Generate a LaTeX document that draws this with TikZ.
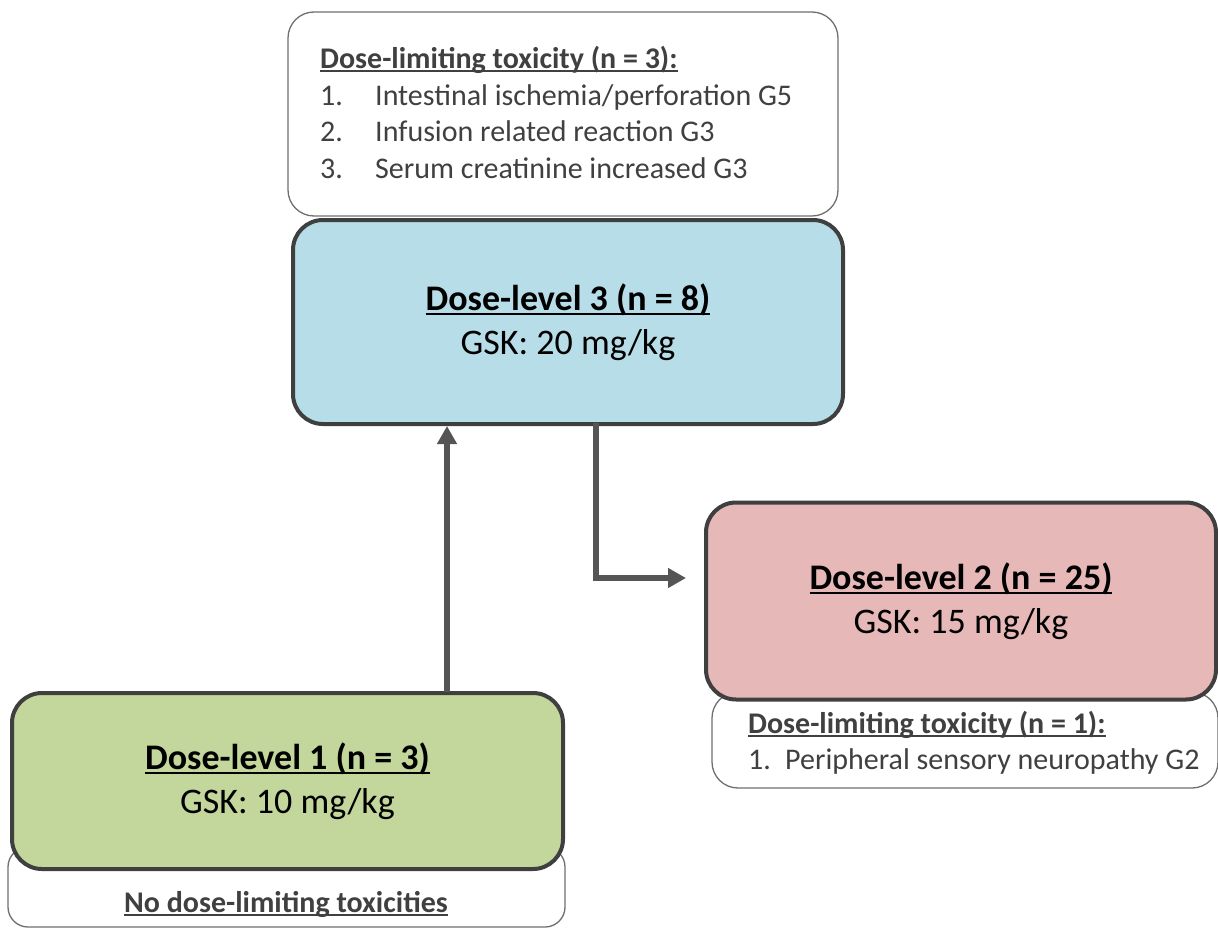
\documentclass[tikz,border=0pt]{standalone}
\usepackage{fontspec}
\setmainfont{Carlito}
\usetikzlibrary{arrows.meta}
\definecolor{bluefill}{HTML}{B7DDE8}
\definecolor{pinkfill}{HTML}{E6B9B8}
\definecolor{greenfill}{HTML}{C3D69B}
\definecolor{boxline}{HTML}{3F3F3F}
\definecolor{thinline}{HTML}{6F6F6F}
\definecolor{arrowgray}{HTML}{555555}
\definecolor{dlttext}{HTML}{404040}
\newsavebox{\myulbox}
\newcommand{\myul}[1]{\sbox{\myulbox}{#1}\rlap{\rule[-0.13em]{\wd\myulbox}{0.065em}}\usebox{\myulbox}}
\begin{document}
\begin{tikzpicture}[x=1pt,y=-1pt,
  levelbox/.style={draw=boxline, line width=4pt, rounded corners=30pt, align=center,
    font=\fontsize{36}{44}\selectfont, text=black, inner sep=0pt},
  dltbox/.style={draw=thinline, line width=1.3pt, fill=white, rounded corners=26pt, inner sep=0pt},
  dlt/.style={anchor=base west, inner sep=0pt, text=dlttext, font=\fontsize{30}{36}\selectfont},
  flow/.style={draw=arrowgray, line width=6.5pt, -{Triangle[width=19pt,length=18pt]}}
]
\useasboundingbox (0,0) rectangle (1218,929);

% top DLT box
\node[dltbox, minimum width=550pt, minimum height=204pt] (dlt3) at (563,114) {};
\node[dlt] (d3t) at (320,68) {\myul{\textbf{Dose-limiting toxicity (n = 3):}}};
\node[dlt] (d3n1) at (320,105) {1.};
\node[dlt] (d3a) at (375,105) {Intestinal ischemia/perforation G5};
\node[dlt] (d3n2) at (320,141) {2.};
\node[dlt] (d3b) at (375,141) {Infusion related reaction G3};
\node[dlt] (d3n3) at (320,178) {3.};
\node[dlt] (d3c) at (375,178) {Serum creatinine increased G3};

% Dose-level 3
\node[levelbox, fill=bluefill, minimum width=550pt, minimum height=204pt] (dl3) at (568,322)
  {\myul{\textbf{Dose-level 3 (n = 8)}}\\GSK: 20 mg/kg};

% pink DLT box (behind pink box)
\node[dltbox, minimum width=506pt, minimum height=96pt] (dlt2) at (965,740) {};
\node[dlt] (d2t) at (748,733) {\myul{\textbf{Dose-limiting toxicity (n = 1):}}};
\node[dlt] (d2n) at (748,769) {1.};
\node[dlt] (d2a) at (785,769) {Peripheral sensory neuropathy G2};

% Dose-level 2
\node[levelbox, fill=pinkfill, minimum width=510pt, minimum height=197pt] (dl2) at (961,601)
  {\myul{\textbf{Dose-level 2 (n = 25)}}\\GSK: 15 mg/kg};

% bottom box
\node[dltbox, rounded corners=20pt, minimum width=557pt, minimum height=80pt] (dlt1) at (286.5,887) {};
\node[anchor=base, inner sep=0pt, text=dlttext, font=\fontsize{30}{36}\selectfont] (d1t) at (286,912)
  {\myul{\textbf{No dose-limiting toxicities}}};

% Dose-level 1
\node[levelbox, fill=greenfill, minimum width=551pt, minimum height=176pt] (dl1) at (287.5,781)
  {\myul{\textbf{Dose-level 1 (n = 3)}}\\GSK: 10 mg/kg};

% connectors
\coordinate (up0) at (447,692);
\coordinate (dn0) at (596,423);
\coordinate (pin) at (686,578);
\draw[flow] (up0) -- (up0 |- dl3.south);
\draw[flow] (dn0) |- (pin);
\end{tikzpicture}
\end{document}
